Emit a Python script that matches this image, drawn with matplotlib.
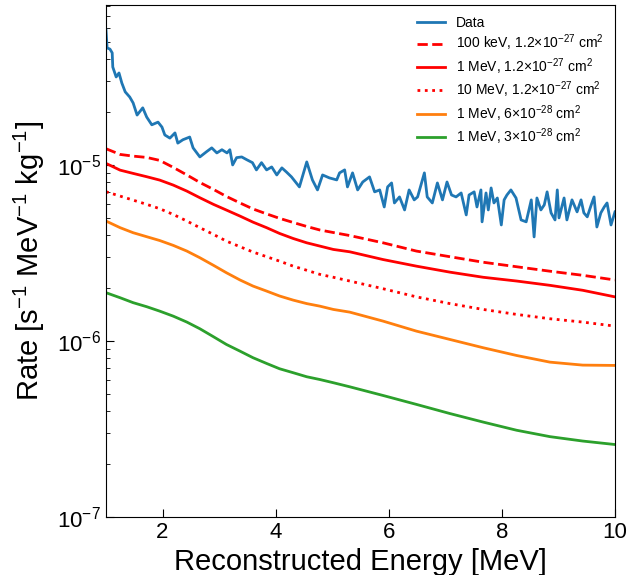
import numpy as np
import matplotlib
matplotlib.use("Agg")
import matplotlib.pyplot as plt

plt.rcParams["font.family"] = ["Liberation Sans", "DejaVu Sans"]
plt.rcParams["mathtext.fontset"] = "custom"
plt.rcParams["mathtext.rm"] = "Liberation Sans"
plt.rcParams["mathtext.it"] = "Liberation Sans:italic"
plt.rcParams["mathtext.bf"] = "Liberation Sans:bold"

# measured spectrum (rate in units of 1e-5)
data_E = [1.00, 1.02, 1.07, 1.11, 1.12, 1.18, 1.23, 1.28, 1.34, 1.42, 1.48, 1.55, 1.65, 1.72,
          1.81, 1.92, 1.99, 2.04, 2.13, 2.22, 2.27, 2.36, 2.48, 2.54, 2.66, 2.78, 2.87, 2.96,
          3.05, 3.14, 3.19, 3.24, 3.31, 3.40, 3.49, 3.59, 3.66, 3.75, 3.84, 3.93, 4.02, 4.11,
          4.19, 4.28, 4.42, 4.55, 4.65, 4.74, 4.83, 4.95, 5.08, 5.13, 5.22, 5.27, 5.36, 5.45,
          5.54, 5.66, 5.75, 5.84, 5.92, 5.98, 6.05, 6.10, 6.19, 6.28, 6.36, 6.45, 6.51, 6.63,
          6.68, 6.77, 6.86, 6.95, 7.03, 7.11, 7.19, 7.28, 7.37, 7.42, 7.51, 7.56, 7.63, 7.65,
          7.72, 7.76, 7.81, 7.86, 7.92, 7.99, 8.04, 8.09, 8.16, 8.25, 8.34, 8.43, 8.52, 8.57,
          8.62, 8.69, 8.75, 8.80, 8.87, 8.94, 8.98, 9.01, 9.10, 9.15, 9.24, 9.33, 9.40, 9.45,
          9.51, 9.58, 9.63, 9.68, 9.75, 9.81, 9.86, 9.93, 10.0]
data_rate = [5.85, 4.62, 4.55, 4.33, 3.60, 3.16, 3.33, 2.92, 2.60, 2.43, 2.25, 1.92, 2.11, 1.87,
             1.69, 1.75, 1.64, 1.48, 1.42, 1.52, 1.33, 1.39, 1.44, 1.25, 1.11, 1.19, 1.25, 1.17,
             1.22, 1.17, 1.22, 1.00, 1.10, 1.11, 1.07, 1.03, 0.937, 1.03, 0.937, 0.974, 0.877, 0.962,
             0.912, 0.855, 0.750, 1.04, 0.822, 0.721, 0.877, 0.844, 0.822, 0.901, 0.937, 0.750, 0.901, 0.721,
             0.80, 0.855, 0.703, 0.721, 0.577, 0.750, 0.790, 0.608, 0.658, 0.555, 0.721, 0.633, 0.658, 0.901,
             0.658, 0.608, 0.790, 0.633, 0.80, 0.675, 0.658, 0.693, 0.520, 0.675, 0.703, 0.577, 0.721, 0.475,
             0.693, 0.555, 0.740, 0.608, 0.649, 0.456, 0.633, 0.675, 0.721, 0.649, 0.487, 0.475, 0.633, 0.390,
             0.649, 0.555, 0.593, 0.703, 0.534, 0.487, 0.721, 0.50, 0.649, 0.487, 0.633, 0.541, 0.633, 0.534,
             0.507, 0.593, 0.658, 0.444, 0.534, 0.577, 0.608, 0.456, 0.541]

# model predictions (units of 1e-5)
model_E = [1.0, 1.25, 1.48, 1.72, 1.95, 2.19, 2.43, 2.66, 2.9, 3.13, 3.37, 3.6, 3.84, 4.07,
           4.31, 4.55, 4.78, 5.02, 5.31, 5.9, 6.49, 7.08, 7.67, 8.26, 8.85, 9.43, 10.0]
r100keV = [1.236, 1.147, 1.122, 1.103, 1.061, 0.968, 0.877, 0.795, 0.726, 0.662, 0.608, 0.562,
           0.527, 0.497, 0.471, 0.447, 0.427, 0.413, 0.397, 0.361, 0.324, 0.301, 0.280, 0.264,
           0.249, 0.236, 0.222]
r1MeV = [1.020, 0.934, 0.895, 0.857, 0.820, 0.768, 0.710, 0.651, 0.597, 0.554, 0.512, 0.473,
         0.440, 0.408, 0.382, 0.361, 0.346, 0.331, 0.321, 0.290, 0.266, 0.246, 0.230, 0.219,
         0.207, 0.194, 0.178]
r10MeV = [0.704, 0.665, 0.631, 0.597, 0.564, 0.523, 0.480, 0.440, 0.403, 0.369, 0.343, 0.320,
          0.301, 0.284, 0.266, 0.252, 0.239, 0.230, 0.219, 0.198, 0.178, 0.163, 0.151, 0.1415,
          0.1337, 0.128, 0.1214]
r1MeV_6e28 = [0.480, 0.440, 0.412, 0.391, 0.372, 0.349, 0.324, 0.297, 0.269, 0.244, 0.222, 0.205,
              0.192, 0.180, 0.1706, 0.163, 0.1577, 0.151, 0.1458, 0.1296, 0.1137, 0.1020, 0.0915,
              0.0827, 0.0758, 0.0729, 0.0726]
r1MeV_3e28 = [0.188, 0.176, 0.165, 0.1565, 0.1477, 0.1383, 0.128, 0.1173, 0.1057, 0.0955, 0.0875,
              0.0803, 0.0745, 0.0695, 0.0660, 0.0626, 0.0604, 0.0579, 0.0549, 0.0490, 0.0436,
              0.0387, 0.0346, 0.0311, 0.0286, 0.0270, 0.0258]

scale = 1e-5

fig = plt.figure(figsize=(6.29, 5.75), dpi=100)
ax = fig.add_axes([0.1685, 0.1009, 0.8092, 0.8904])

ax.plot(data_E, np.array(data_rate) * scale, color="#1f77b4", lw=2, label="Data")
ax.plot(model_E, np.array(r100keV) * scale, color="red", lw=2, ls="--",
        label=r"100 keV, 1.2$\times$10$^{-27}$ cm$^2$")
ax.plot(model_E, np.array(r1MeV) * scale, color="red", lw=2,
        label=r"1 MeV, 1.2$\times$10$^{-27}$ cm$^2$")
ax.plot(model_E, np.array(r10MeV) * scale, color="red", lw=2, ls=":",
        label=r"10 MeV, 1.2$\times$10$^{-27}$ cm$^2$")
ax.plot(model_E, np.array(r1MeV_6e28) * scale, color="#ff7f0e", lw=2,
        label=r"1 MeV, 6$\times$10$^{-28}$ cm$^2$")
ax.plot(model_E, np.array(r1MeV_3e28) * scale, color="#2ca02c", lw=2,
        label=r"1 MeV, 3$\times$10$^{-28}$ cm$^2$")

ax.set_yscale("log")
ax.set_xlim(1, 10)
ax.set_ylim(1e-7, 8.1e-5)
ax.set_xticks([2, 4, 6, 8, 10])
ax.tick_params(which="both", direction="in", labelsize=16)
ax.tick_params(which="major", length=6)
ax.tick_params(which="minor", length=3)
ax.set_xlabel("Reconstructed Energy [MeV]", fontsize=21)
ax.set_ylabel(r"Rate [s$^{-1}$ MeV$^{-1}$ kg$^{-1}$]", fontsize=21, labelpad=7)
ax.legend(loc="upper right", frameon=False, fontsize=10, labelspacing=0.2,
          borderaxespad=0.4)

fig.savefig("out.png", dpi=100)
